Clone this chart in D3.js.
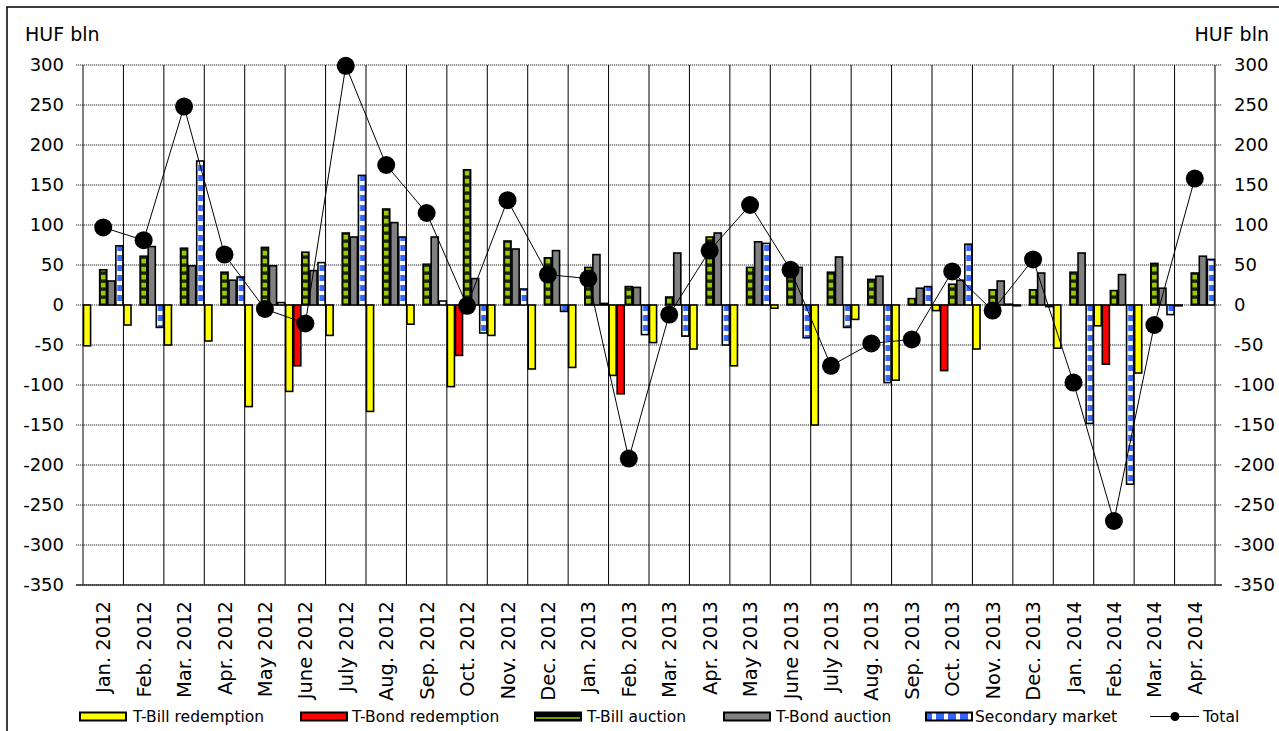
<!DOCTYPE html>
<html><head><meta charset="utf-8">
<script src="https://cdn.jsdelivr.net/npm/d3@7"></script>
<style>
body{margin:0;background:#fff;}
svg{display:block;}
text{font-family:"DejaVu Sans",sans-serif;fill:#000;}
</style>
</head><body>
<svg id="c" width="1279" height="731"></svg>
<script>
const months = ["Jan. 2012","Feb. 2012","Mar. 2012","Apr. 2012","May 2012","June 2012","July 2012","Aug. 2012","Sep. 2012","Oct. 2012","Nov. 2012","Dec. 2012","Jan. 2013","Feb. 2013","Mar. 2013","Apr. 2013","May 2013","June 2013","July 2013","Aug. 2013","Sep. 2013","Oct. 2013","Nov. 2013","Dec. 2013","Jan. 2014","Feb. 2014","Mar. 2014","Apr. 2014"];
const tBillRedemption = [-51,-25,-50,-45,-127,-108,-38,-133,-24,-102,-38,-80,-78,-88,-47,-55,-76,-4,-150,-18,-94,-7,-55,-1,-54,-26,-85,-1];
const tBondRedemption = [0,0,0,0,0,-76,0,0,0,-63,0,0,0,-111,0,0,0,0,0,0,0,-82,0,0,0,-74,0,0];
const tBillAuction = [44,61,71,41,72,66,90,120,51,169,80,59,47,23,10,85,47,42,41,32,8,26,19,19,41,18,52,40];
const tBondAuction = [30,73,49,31,49,43,85,103,85,33,70,68,63,22,65,90,79,47,60,36,21,31,30,40,65,38,21,61];
const secondaryMarket = [74,-28,180,35,3,53,162,85,5,-35,20,-8,2,-37,-39,-50,77,-41,-28,-97,23,76,1,-2,-148,-224,-12,57];
const total = [97,81,248,63,-5,-23,299,175,115,-1,131,38,33,-192,-12,68,125,44,-76,-48,-43,42,-7,57,-97,-270,-25,158];
const yTickValues = [-350,-300,-250,-200,-150,-100,-50,0,50,100,150,200,250,300];
const seriesNames = ["T-Bill redemption","T-Bond redemption","T-Bill auction","T-Bond auction","Secondary market"];
const unitLabel = "HUF bln";

const svg = d3.select("#c");
const m = {left:83, right:1215, top:65, bottom:585};
const x = d3.scaleBand().domain(months).range([m.left, m.right]).padding(0);
const y = d3.scaleLinear().domain([-350, 300]).range([m.bottom, m.top]);
const slot = x.bandwidth() / 5;

// frame
svg.append("rect").attr("x",7).attr("y",7).attr("width",1400).attr("height",1000)
  .attr("fill","none").attr("stroke","#000").attr("stroke-width",1.5);

// patterns
const defs = svg.append("defs");
const pg = defs.append("pattern").attr("id","pGreen").attr("patternUnits","userSpaceOnUse")
  .attr("x", m.left + 2*slot).attr("y", y(0)).attr("width", slot).attr("height", 8);
pg.append("rect").attr("width", slot).attr("height", 8).attr("fill", "#1c2200");
pg.append("rect").attr("x", (slot-4.6)/2).attr("y", 1.8).attr("width", 4.6).attr("height", 4.6).attr("fill", "#99cc00");
const pb = defs.append("pattern").attr("id","pBlue").attr("patternUnits","userSpaceOnUse")
  .attr("x", m.left + 4*slot).attr("y", y(0)).attr("width", slot).attr("height", 10);
pb.append("rect").attr("width", slot).attr("height", 10).attr("fill", "#fff");
pb.append("rect").attr("x", 2).attr("y", 0).attr("width", slot-3).attr("height", 6).attr("fill", "#3366ff");
const pbl = defs.append("pattern").attr("id","pBlueLeg").attr("patternUnits","userSpaceOnUse")
  .attr("x", 0).attr("y", 0).attr("width", 12).attr("height", 10);
pbl.append("rect").attr("width", 12).attr("height", 10).attr("fill", "#fff");
pbl.append("rect").attr("x", 0).attr("y", 0).attr("width", 8).attr("height", 10).attr("fill", "#3366ff");

// horizontal grid
svg.append("g").selectAll("line").data(yTickValues).join("line")
  .attr("x1", m.left - 7).attr("x2", m.right + 7)
  .attr("y1", d => y(d)).attr("y2", d => y(d))
  .attr("stroke", "#6e6e6e").attr("stroke-width", 1.6).attr("stroke-dasharray", "1.2,0.8");

// vertical grid
const bounds = months.map(d => x(d)).concat([m.right]);
svg.append("g").selectAll("line").data(bounds).join("line")
  .attr("x1", d => d).attr("x2", d => d).attr("y1", m.top).attr("y2", m.bottom)
  .attr("stroke", "#000").attr("stroke-width", 1);

// bottom axis
svg.append("line").attr("x1", m.left-7).attr("x2", m.right+7).attr("y1", m.bottom).attr("y2", m.bottom)
  .attr("stroke", "#333").attr("stroke-width", 1.6);

// bars
const series = [
  {vals: tBillRedemption, fill: "#ffff00"},
  {vals: tBondRedemption, fill: "#ff0000"},
  {vals: tBillAuction, fill: "url(#pGreen)"},
  {vals: tBondAuction, fill: "#808080"},
  {vals: secondaryMarket, fill: "url(#pBlue)"}
];
series.forEach((s, si) => {
  svg.append("g").selectAll("rect")
    .data(months.map((mo, i) => ({mo, v: s.vals[i]})).filter(d => d.v !== 0))
    .join("rect")
    .attr("x", d => x(d.mo) + si*slot + 0.5)
    .attr("width", slot - 1)
    .attr("y", d => y(Math.max(0, d.v)))
    .attr("height", d => Math.abs(y(d.v) - y(0)))
    .attr("fill", s.fill).attr("stroke", "#000").attr("stroke-width", 1.6);
});

// total line
const cx = d => x(d) + x.bandwidth()/2;
const line = d3.line().x((d,i) => cx(months[i])).y(d => y(d));
svg.append("path").datum(total).attr("d", line).attr("fill","none").attr("stroke","#000").attr("stroke-width",1);
svg.append("g").selectAll("circle").data(total).join("circle")
  .attr("cx", (d,i) => cx(months[i])).attr("cy", d => y(d)).attr("r", 9).attr("fill", "#000");

// y labels
svg.append("g").selectAll("text").data(yTickValues).join("text")
  .attr("x", 64).attr("y", d => y(d)).attr("dy", "0.36em").attr("text-anchor", "end")
  .style("font-size", "18px").text(d => d);
svg.append("g").selectAll("text").data(yTickValues).join("text")
  .attr("x", 1234).attr("y", d => y(d)).attr("dy", "0.36em").attr("text-anchor", "start")
  .style("font-size", "18px").text(d => d);
svg.append("text").attr("x", 25).attr("y", 41).style("font-size", "19px").text(unitLabel);
svg.append("text").attr("x", 1269).attr("y", 41).attr("text-anchor","end").style("font-size", "19px").text(unitLabel);

// x labels
svg.append("g").selectAll("text").data(months).join("text")
  .attr("transform", d => `translate(${cx(d)},601) rotate(-90)`)
  .attr("dy", "0.36em").attr("text-anchor", "end")
  .style("font-size", "19.5px").text(d => d);

// legend
const leg = svg.append("g");
const legItems = [
  {x: 80, tx: 133, fill: "#ffff00"},
  {x: 301, tx: 352, fill: "#ff0000"},
  {x: 535, tx: 587, fill: "#000", green: true},
  {x: 724, tx: 776, fill: "#808080"},
  {x: 926, tx: 975, fill: "url(#pBlueLeg)"}
];
legItems.forEach((it, i) => {
  leg.append("rect").attr("x", it.x).attr("y", 712.5).attr("width", 46).attr("height", 8)
    .attr("fill", it.fill).attr("stroke", "#000").attr("stroke-width", 2);
  if (it.green) leg.append("line").attr("x1", it.x+1).attr("x2", it.x+45).attr("y1", 718).attr("y2", 718)
    .attr("stroke", "#99cc00").attr("stroke-width", 1.5);
  leg.append("text").attr("x", it.tx).attr("y", 722).style("font-size", "15.5px").text(seriesNames[i]);
});
leg.append("line").attr("x1", 1150).attr("x2", 1199).attr("y1", 716.5).attr("y2", 716.5).attr("stroke", "#000").attr("stroke-width", 1);
leg.append("circle").attr("cx", 1175).attr("cy", 716.5).attr("r", 4.5).attr("fill", "#000");
leg.append("text").attr("x", 1203).attr("y", 722).style("font-size", "15.5px").text("Total");
</script>
</body></html>
